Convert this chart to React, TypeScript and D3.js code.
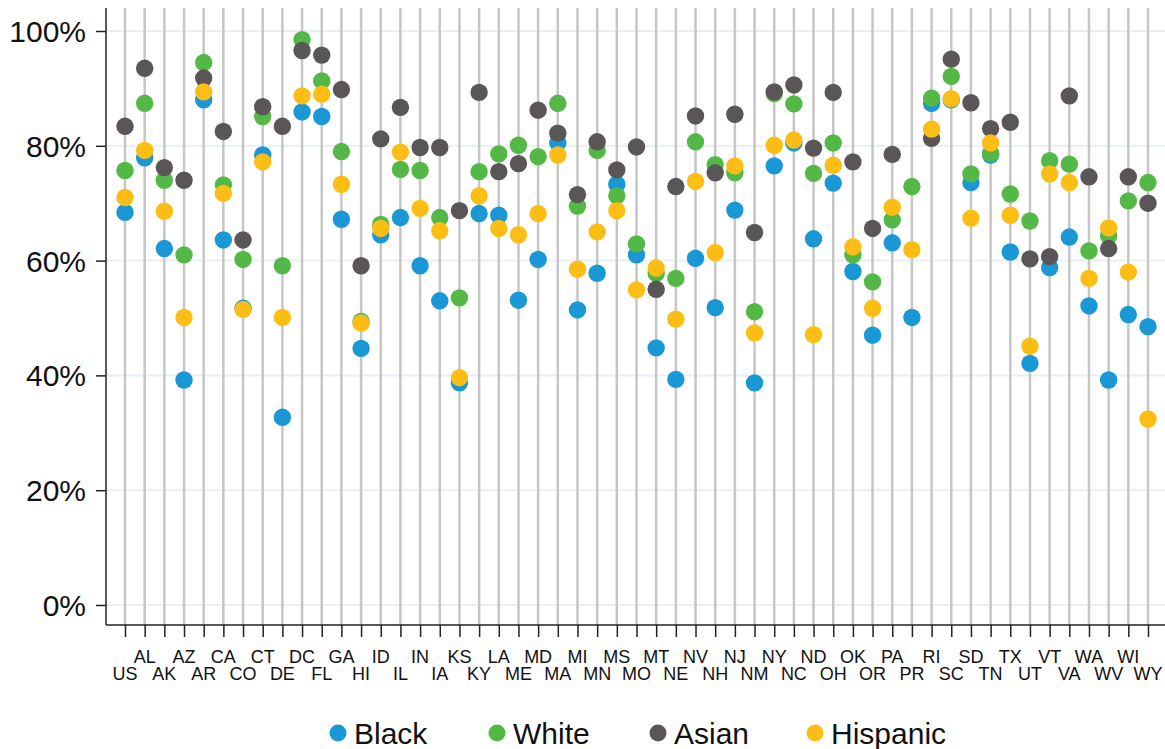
import { useEffect, useRef } from 'react';
import * as d3 from 'd3';

const states = ['US', 'AL', 'AK', 'AZ', 'AR', 'CA', 'CO', 'CT', 'DE', 'DC', 'FL', 'GA', 'HI', 'ID', 'IL', 'IN', 'IA', 'KS', 'KY', 'LA', 'ME', 'MD', 'MA', 'MI', 'MN', 'MS', 'MO', 'MT', 'NE', 'NV', 'NH', 'NJ', 'NM', 'NY', 'NC', 'ND', 'OH', 'OK', 'OR', 'PA', 'PR', 'RI', 'SC', 'SD', 'TN', 'TX', 'UT', 'VT', 'VA', 'WA', 'WV', 'WI', 'WY'];

const black = [68.4, 77.9, 62.1, 39.2, 88.0, 63.6, 51.7, 78.4, 32.7, 85.9, 85.1, 67.2, 44.7, 64.5, 67.5, 59.1, 53.0, 38.7, 68.2, 67.9, 53.1, 60.2, 80.5, 51.4, 57.8, 73.3, 61.0, 44.8, 39.3, 60.4, 51.8, 68.8, 38.7, 76.5, 80.5, 63.8, 73.5, 58.1, 47.0, 63.1, 50.1, 87.4, 88.0, 73.6, 78.4, 61.5, 42.1, 58.8, 64.1, 52.1, 39.2, 50.6, 48.5];
const white = [75.7, 87.4, 74.0, 61.0, 94.5, 73.2, 60.2, 85.1, 59.1, 98.5, 91.3, 79.0, 49.4, 66.3, 75.9, 75.7, 67.5, 53.5, 75.5, 78.6, 80.1, 78.1, 87.4, 69.5, 79.2, 71.3, 62.9, 57.8, 56.9, 80.7, 76.7, 75.3, 51.1, 89.1, 87.3, 75.2, 80.5, 61.0, 56.3, 67.1, 72.9, 88.3, 92.1, 75.1, 78.7, 71.6, 66.9, 77.4, 76.8, 61.7, 64.3, 70.4, 73.6];
const asian: (number | null)[] = [83.4, 93.5, 76.2, 74.0, 91.8, 82.5, 63.6, 86.8, 83.4, 96.6, 95.8, 89.8, 59.1, 81.2, 86.7, 79.7, 79.7, 68.7, 89.3, 75.5, 76.9, 86.2, 82.2, 71.5, 80.7, 75.8, 79.8, 55.0, 72.9, 85.2, 75.3, 85.5, 64.9, 89.4, 90.6, 79.6, 89.3, 77.2, 65.6, 78.5, null, 81.3, 95.1, 87.5, 83.0, 84.1, 60.3, 60.7, 88.7, 74.6, 62.1, 74.6, 70.0];
const hispanic = [71.0, 79.2, 68.6, 50.1, 89.4, 71.7, 51.5, 77.2, 50.1, 88.7, 89.0, 73.3, 49.1, 65.6, 78.9, 69.1, 65.2, 39.6, 71.3, 65.6, 64.5, 68.2, 78.4, 58.5, 65.0, 68.7, 54.9, 58.7, 49.8, 73.8, 61.4, 76.5, 47.4, 80.1, 81.0, 47.1, 76.6, 62.4, 51.7, 69.3, 61.9, 82.9, 88.2, 67.4, 80.5, 67.9, 45.1, 75.1, 73.6, 56.9, 65.7, 58.0, 32.4];

const seriesNames = ['Black', 'White', 'Asian', 'Hispanic'];
const seriesColors = ['#1a98d5', '#54b847', '#5a5657', '#fcbe14'];
const yTicks = [0, 20, 40, 60, 80, 100];

export default function App() {
  const ref = useRef<SVGSVGElement | null>(null);
  useEffect(() => {
    document.body.style.margin = '0';
    const svg = d3.select(ref.current!);
    svg.selectAll('*').remove();
    const W = 1165, H = 749;
    const left = 106, right = 1165, top = 8, bottom = 625;
    const font = '"Liberation Sans", Arial, sans-serif';

    const x = d3.scalePoint<string>().domain(states).range([125, 1148]);
    const y = d3.scaleLinear().domain([0, 100]).range([605, 31]);

    svg.attr('viewBox', `0 0 ${W} ${H}`);
    svg.append('rect').attr('width', W).attr('height', H).attr('fill', '#fff');

    // horizontal grid
    svg.append('g').selectAll('line').data(yTicks).enter().append('line')
      .attr('x1', left).attr('x2', right).attr('y1', (d) => y(d)).attr('y2', (d) => y(d))
      .attr('stroke', '#e9eff3').attr('stroke-width', 2);

    // vertical category lines
    svg.append('g').selectAll('line').data(states).enter().append('line')
      .attr('x1', (d) => x(d)!).attr('x2', (d) => x(d)!).attr('y1', top).attr('y2', bottom)
      .attr('stroke', '#c6c6c6').attr('stroke-width', 2.5);

    // axes
    svg.append('g').attr('transform', `translate(${left},0)`)
      .call(d3.axisLeft(y).tickValues(yTicks).tickFormat((d) => `${d}%`).tickSize(10).tickPadding(10).tickSizeOuter(0))
      .call((s) => s.select('.domain').attr('stroke', '#222').attr('stroke-width', 1.5).attr('d', `M0,${top}V${bottom}`))
      .call((s) => s.selectAll('.tick line').attr('stroke', '#222').attr('stroke-width', 1.5))
      .selectAll('text').attr('font-size', 30).attr('fill', '#111').attr('font-family', font).attr('dy', '0.35em');

    svg.append('g').attr('transform', `translate(0,${bottom})`)
      .call(d3.axisBottom(x).tickSize(12).tickFormat(() => '').tickSizeOuter(0))
      .call((s) => s.select('.domain').attr('stroke', '#222').attr('stroke-width', 1.5).attr('d', `M${left},0H${right}`))
      .call((s) => s.selectAll('.tick line').attr('stroke', '#222').attr('stroke-width', 1.5));

    svg.append('g').selectAll('text').data(states).enter().append('text')
      .attr('x', (d) => x(d)!).attr('y', (_, i) => (i % 2 === 1 ? 663 : 680))
      .attr('text-anchor', 'middle').attr('font-size', 18).attr('font-family', font).attr('fill', '#111')
      .text((d) => d);

    // dots, drawn in legend order so overlaps stack the same way
    const all = [black, white, asian, hispanic];
    all.forEach((vals, si) => {
      const pts = states.map((s, i) => ({ s, v: vals[i] })).filter((d) => d.v != null) as { s: string; v: number }[];
      svg.append('g').selectAll('circle').data(pts).enter().append('circle')
        .attr('cx', (d) => x(d.s)!).attr('cy', (d) => y(d.v)).attr('r', 8.7)
        .attr('fill', seriesColors[si]);
    });

    // legend
    const lx = [338, 497, 658, 815];
    const lg = svg.append('g');
    seriesNames.forEach((n, i) => {
      lg.append('circle').attr('cx', lx[i]).attr('cy', 733).attr('r', 8.5).attr('fill', seriesColors[i]);
      lg.append('text').attr('x', lx[i] + 16).attr('y', 744).attr('font-size', 30).attr('font-family', font).attr('fill', '#111').text(n);
    });
  }, []);
  return <svg ref={ref} width={1165} height={749} style={{ display: 'block' }} />;
}
